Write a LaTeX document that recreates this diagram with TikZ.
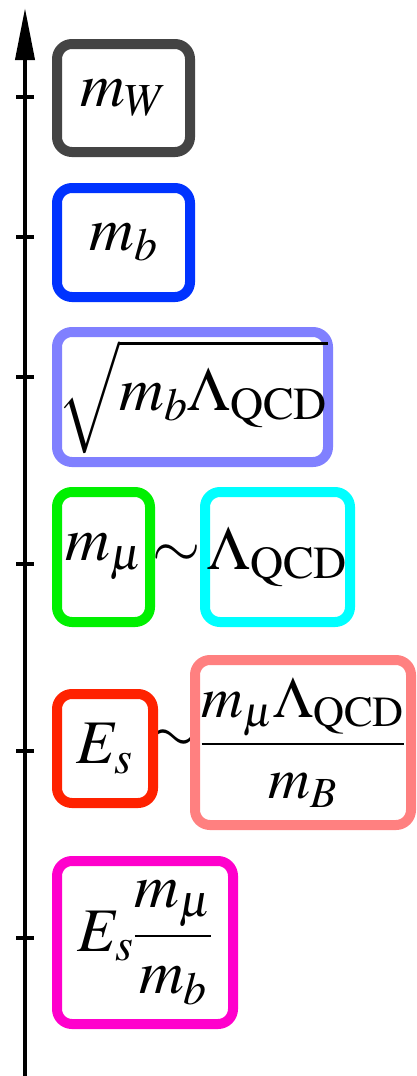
\documentclass[tikz,border=0pt]{standalone}
\usepackage{mathptmx}
\usetikzlibrary{arrows.meta}
\definecolor{cW}{HTML}{444444}
\definecolor{cB}{HTML}{0033FF}
\definecolor{cS}{HTML}{8080FF}
\definecolor{cG}{HTML}{00F000}
\definecolor{cC}{HTML}{00FFFF}
\definecolor{cR}{HTML}{FF2200}
\definecolor{cF}{HTML}{FF8080}
\definecolor{cM}{HTML}{FF00CC}
\begin{document}
\begin{tikzpicture}[x=1pt,y=-1pt,
  bx/.style={draw=#1, line width=10pt, rounded corners=15pt, fill=white, inner sep=0pt, font=\fontsize{62}{74}\selectfont},
  tick/.style={line width=3.5pt},
  sim/.style={inner sep=0pt, font=\fontsize{62}{74}\selectfont}]
\useasboundingbox[fill=white] (0,0) rectangle (416,1076);
% axis
\coordinate (axbot) at (25,1076);
\coordinate (axtop) at (25,8);
\draw[line width=4pt, -{Triangle[length=52pt,width=19pt]}] (axbot) -- (axtop);
\foreach \y in {97,237,377,564,751,938}{
  \coordinate (tl\y) at (16,\y);
  \coordinate (tr\y) at (34,\y);
  \draw[tick] (tl\y) -- (tr\y);
}
% tildes
\node[sim] (s1) at (177,556) {$\sim$};
\node[sim] (s2) at (174,741) {$\sim$};
% boxes
\node[bx=cW, minimum width=133pt, minimum height=108pt] (mW) at (123.5,98) {$m_W$};
\node[bx=cB, minimum width=133pt, minimum height=109pt] (mb) at (123.5,242.5) {$m_b$};
\node[bx=cS, minimum width=271pt, minimum height=130pt] (sq) at (192.5,397) {$\sqrt{\rule[-0.6em]{0pt}{1.5em}m_b\Lambda_{\mathrm{QCD}}}$};
\node[bx=cG, minimum width=93pt, minimum height=130pt] (mmu) at (103.5,557) {$m_\mu$};
\node[bx=cC, minimum width=145pt, minimum height=130pt] (lam) at (277.5,557) {$\Lambda_{\mathrm{QCD}}$};
\node[bx=cR, minimum width=96pt, minimum height=109pt] (Es) at (105,748.5) {$E_s$};
\node[bx=cF, minimum width=216pt, minimum height=165pt, font=\fontsize{58}{70}\selectfont] (fr) at (303,742.5) {$\displaystyle\frac{m_\mu\Lambda_{\mathrm{QCD}}}{m_B}$};
\node[bx=cM, minimum width=176pt, minimum height=163pt] (Esf) at (145,942.5) {$\displaystyle E_s\frac{m_\mu}{m_b}$};
\end{tikzpicture}
\end{document}
